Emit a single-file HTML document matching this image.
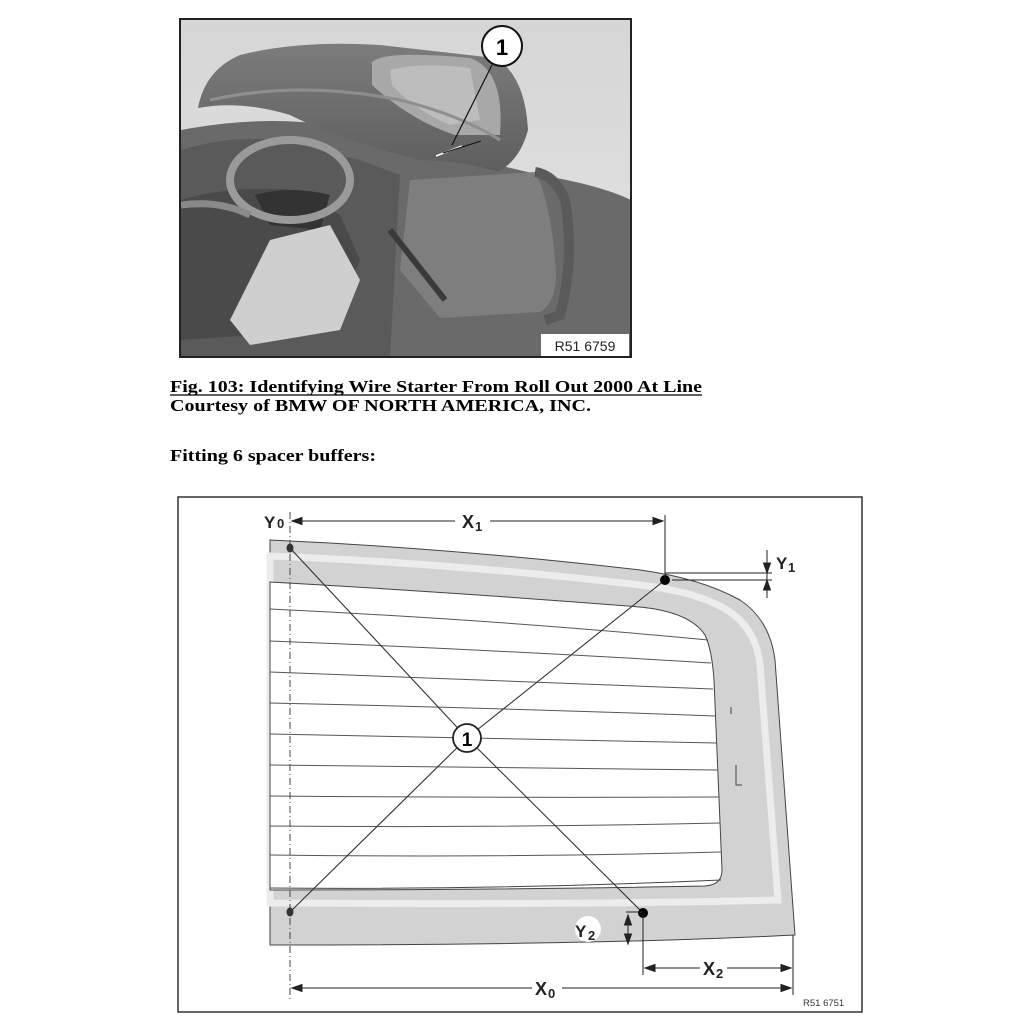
<!DOCTYPE html>
<html><head><meta charset="utf-8"><style>
html,body{margin:0;padding:0;background:#fff;width:1024px;height:1024px;overflow:hidden}
svg{display:block}
</style></head><body>
<svg width="1024" height="1024" viewBox="0 0 1024 1024" xmlns="http://www.w3.org/2000/svg">
<defs>
<linearGradient id="bg" x1="0" y1="0" x2="0" y2="1"><stop offset="0" stop-color="#d6d6d6"/><stop offset="1" stop-color="#e4e4e4"/></linearGradient>
<linearGradient id="top" x1="0" y1="0" x2="0" y2="1"><stop offset="0" stop-color="#7c7c7c"/><stop offset="1" stop-color="#5e5e5e"/></linearGradient>
<clipPath id="ph"><rect x="181" y="20" width="449" height="336"/></clipPath>
</defs>
<!-- photo -->
<rect x="180" y="19" width="451" height="338" fill="url(#bg)" stroke="#222" stroke-width="2"/>
<g clip-path="url(#ph)">
<!-- car body -->
<path d="M181 130 Q260 115 330 125 L540 175 Q600 185 631 200 L631 357 L181 357 Z" fill="#6a6a6a"/>
<path d="M181 150 Q230 135 280 140 Q320 150 360 160 L400 175 L390 357 L181 357 Z" fill="#5a5a5a"/>
<!-- interior -->
<path d="M181 200 Q230 185 300 190 L340 215 L360 260 L330 330 L181 340 Z" fill="#4a4a4a"/>
<path d="M255 195 Q290 185 330 195 L320 230 L270 225 Z" fill="#333"/>
<ellipse cx="290" cy="180" rx="60" ry="40" fill="none" stroke="#9a9a9a" stroke-width="8"/>
<path d="M181 205 Q220 200 250 215" fill="none" stroke="#8a8a8a" stroke-width="7"/>
<path d="M270 240 L330 225 L360 280 L340 330 L250 345 L230 320 Z" fill="#cfcfcf"/>
<!-- rear panel window -->
<path d="M410 180 L535 172 Q550 200 555 260 Q560 300 540 312 L440 318 L400 270 Z" fill="#7e7e7e"/>
<path d="M535 172 Q555 175 565 200 Q575 260 560 315 L545 320" fill="none" stroke="#5a5a5a" stroke-width="10"/>
<path d="M390 230 L445 300" stroke="#3a3a3a" stroke-width="6"/>
<!-- hardtop -->
<path d="M198 108 Q205 70 240 55 Q300 40 380 45 L495 58 Q525 75 528 130 Q520 160 498 172 Q470 162 420 160 Q340 140 290 115 Q240 100 198 108 Z" fill="url(#top)"/>
<path d="M372 62 Q385 50 470 58 Q505 70 500 135 L455 135 Q410 120 372 85 Z" fill="#a8a8a8"/>
<path d="M390 70 Q420 62 470 68 L480 120 L450 125 Q415 110 392 85 Z" fill="#bdbdbd"/>
<path d="M210 100 Q300 80 400 100 Q460 115 500 140" fill="none" stroke="#8f8f8f" stroke-width="3"/>
</g>
<line x1="436" y1="156" x2="462" y2="146" stroke="#fff" stroke-width="1.5"/>
<line x1="443" y1="153" x2="481" y2="141" stroke="#111" stroke-width="1"/>
<line x1="452" y1="145" x2="492" y2="65" stroke="#111" stroke-width="1.2"/>
<circle cx="502" cy="46" r="20" fill="#fff" stroke="#111" stroke-width="2"/>
<text x="502" y="55" font-family="Liberation Sans, sans-serif" font-size="22" font-weight="bold" text-anchor="middle">1</text>
<rect x="541" y="334" width="88" height="22" fill="#fff"/>
<text x="585" y="351" font-family="Liberation Sans, sans-serif" font-size="14" text-anchor="middle" fill="#222">R51 6759</text>

<!-- captions -->
<text x="170" y="392" font-family="Liberation Serif, serif" font-size="17" font-weight="bold" textLength="532" lengthAdjust="spacingAndGlyphs">Fig. 103: Identifying Wire Starter From Roll Out 2000 At Line</text>
<line x1="170" y1="395" x2="702" y2="395" stroke="#000" stroke-width="1.3"/>
<text x="170" y="411" font-family="Liberation Serif, serif" font-size="17" font-weight="bold" textLength="421" lengthAdjust="spacingAndGlyphs">Courtesy of BMW OF NORTH AMERICA, INC.</text>
<text x="170" y="461" font-family="Liberation Serif, serif" font-size="17" font-weight="bold" textLength="206" lengthAdjust="spacingAndGlyphs">Fitting 6 spacer buffers:</text>

<!-- diagram frame -->
<rect x="178" y="497" width="684" height="515" fill="#fff" stroke="#333" stroke-width="1.5"/>
<!-- glass outer -->
<path d="M270 540 Q450 548 640 570 Q700 578 740 600 Q770 620 775 660 L795 935 Q600 945 270 945 Z" fill="#d2d2d2" stroke="#444" stroke-width="1"/>
<!-- light stripe -->
<path d="M270 556 Q450 563 640 585 Q700 592 730 612 Q756 630 760 665 L778 900 Q600 905 270 903 Z" fill="none" stroke="#ececec" stroke-width="7"/>
<!-- inner glass -->
<path d="M270 582 Q450 592 640 607 Q690 612 705 635 Q712 650 714 680 L722 870 Q722 885 705 886 Q500 890 270 890 Z" fill="#fff" stroke="#444" stroke-width="1"/>
<!-- heating wires -->
<g stroke="#555" stroke-width="1" fill="none">
<path d="M270 609 Q500 620 708 640"/>
<path d="M270 641 Q500 650 711 663"/>
<path d="M270 672 Q500 680 713 689"/>
<path d="M270 703 Q500 708 715 716"/>
<path d="M270 734 Q500 738 717 743"/>
<path d="M270 765 Q500 768 718 770"/>
<path d="M270 796 Q500 798 719 797"/>
<path d="M270 826 Q500 828 720 823"/>
<path d="M270 855 Q500 858 721 852"/>
<path d="M270 888 Q500 890 721 880" stroke="#444"/>
</g>
<line x1="731" y1="707" x2="731" y2="714" stroke="#444"/>
<path d="M736 765 L736 785 L742 785" fill="none" stroke="#444"/>
<!-- dashed centerline -->
<line x1="290" y1="512" x2="290" y2="1000" stroke="#444" stroke-width="1" stroke-dasharray="7,3,1,3"/>
<!-- X lines -->
<g stroke="#333" stroke-width="1.1">
<line x1="290" y1="548" x2="467" y2="738"/>
<line x1="665" y1="580" x2="467" y2="738"/>
<line x1="290" y1="912" x2="467" y2="738"/>
<line x1="643" y1="913" x2="467" y2="738"/>
</g>
<circle cx="467" cy="738" r="14" fill="#fff" stroke="#222" stroke-width="1.8"/>
<text x="467" y="746" font-family="Liberation Sans, sans-serif" font-size="19" font-weight="bold" text-anchor="middle">1</text>
<!-- dots -->
<ellipse cx="290" cy="548" rx="3.5" ry="4.5" fill="#333"/>
<ellipse cx="290" cy="912" rx="3.5" ry="4.5" fill="#333"/>
<circle cx="665" cy="580" r="5" fill="#000"/>
<circle cx="643" cy="913" r="5" fill="#000"/>
<!-- dimensions -->
<g stroke="#222" stroke-width="1" fill="#222" font-family="Liberation Sans, sans-serif">
<line x1="665" y1="515" x2="665" y2="580"/>
<line x1="292" y1="521" x2="455" y2="521"/>
<line x1="490" y1="521" x2="663" y2="521"/>
<path d="M292 521 l10 -3.5 v7 z"/>
<path d="M663 521 l-10 -3.5 v7 z"/>
<line x1="665" y1="573" x2="772" y2="573"/>
<line x1="672" y1="580" x2="772" y2="580"/>
<line x1="767" y1="550" x2="767" y2="598"/>
<path d="M767 573 l-3.5 -10 h7 z"/>
<path d="M767 580 l-3.5 10 h7 z"/>
<line x1="643" y1="913" x2="643" y2="975"/>
<line x1="793" y1="935" x2="793" y2="995"/>
<line x1="626" y1="912" x2="643" y2="912"/>
<line x1="628" y1="915" x2="628" y2="944"/>
<path d="M628 915 l-3.5 10 h7 z"/>
<path d="M628 944 l-3.5 -10 h7 z"/>
<line x1="645" y1="968" x2="700" y2="968"/>
<line x1="727" y1="968" x2="791" y2="968"/>
<path d="M645 968 l10 -3.5 v7 z"/>
<path d="M791 968 l-10 -3.5 v7 z"/>
<line x1="292" y1="988" x2="532" y2="988"/>
<line x1="562" y1="988" x2="791" y2="988"/>
<path d="M292 988 l10 -3.5 v7 z"/>
<path d="M791 988 l-10 -3.5 v7 z"/>
</g>
<circle cx="588" cy="929" r="13" fill="#fff"/>
<g font-family="Liberation Sans, sans-serif" font-weight="bold" fill="#222">
<text x="264" y="528" font-size="17">Y</text><text x="277" y="528" font-size="13">0</text>
<text x="462" y="528" font-size="18">X</text><text x="475" y="531" font-size="13">1</text>
<text x="776" y="569" font-size="17">Y</text><text x="788" y="572" font-size="13">1</text>
<text x="575" y="937" font-size="17">Y</text><text x="588" y="940" font-size="13">2</text>
<text x="703" y="975" font-size="18">X</text><text x="716" y="978" font-size="13">2</text>
<text x="535" y="995" font-size="18">X</text><text x="548" y="998" font-size="13">0</text>
</g>
<text x="803" y="1006" font-family="Liberation Sans, sans-serif" font-size="9.5" fill="#333">R51 6751</text>
</svg>
</body></html>
